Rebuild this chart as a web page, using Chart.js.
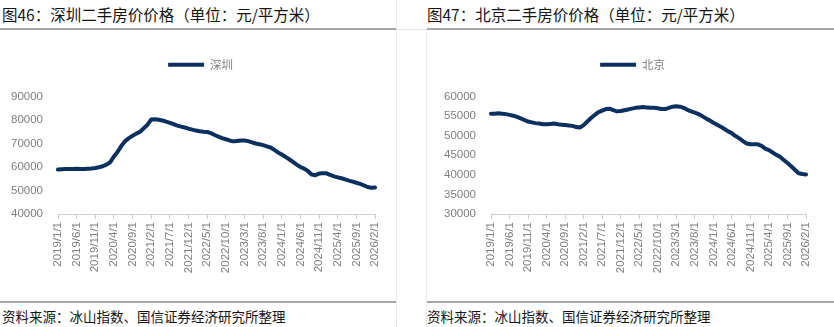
<!DOCTYPE html>
<html>
<head>
<meta charset="utf-8">
<script src="https://cdn.jsdelivr.net/npm/chart.js@4.4.1/dist/chart.umd.min.js"></script>
<style>
  body { margin: 0; background: #fff; }
  #page { position: relative; width: 834px; height: 327px; overflow: hidden; font-family: "Noto Sans CJK SC", sans-serif; }
  .title { position: absolute; top: 3px; font-size: 15.5px; line-height: 22px; color: #151515; white-space: nowrap; }
  .src { position: absolute; top: 306px; font-size: 13.5px; line-height: 20px; color: #151515; white-space: nowrap; }
  .rule { position: absolute; height: 2px; background: #a6a6a6; }
  .thin { position: absolute; height: 1px; background: #e4e4e4; }
  .vsep { position: absolute; top: 0; height: 327px; border-left: 1px dotted #d6d6d6; }
  .box { position: absolute; top: 40px; height: 250px; }
</style>
</head>
<body>
<div id="page">
  <div class="title" style="left:2px">图46：深圳二手房价价格（单位：元/平方米）</div>
  <div class="title" style="left:427px">图47：北京二手房价价格（单位：元/平方米）</div>
  <div class="rule" style="left:0;top:28px;width:396px"></div>
  <div class="thin" style="left:396px;top:29px;width:31px"></div>
  <div class="rule" style="left:427px;top:28px;width:407px"></div>
  <div class="vsep" style="left:396px"></div>
  <div class="vsep" style="left:426px;top:30px;height:297px"></div>
  <div class="box" style="left:0;width:396px"><canvas id="chart-sz"></canvas></div>
  <div class="box" style="left:427px;width:407px"><canvas id="chart-bj"></canvas></div>
  <div class="rule" style="left:0;top:301px;width:396px"></div>
  <div class="rule" style="left:427px;top:301px;width:407px"></div>
  <div class="src" style="left:2px">资料来源：冰山指数、国信证券经济研究所整理</div>
  <div class="src" style="left:427px">资料来源：冰山指数、国信证券经济研究所整理</div>
</div>
<script>
// monthly categories 2019/1/1 .. 2026/2/1
var months = [];
for (var yr = 2019; yr <= 2026; yr++) {
  for (var mo = 1; mo <= 12; mo++) {
    if (yr === 2026 && mo > 2) break;
    months.push(yr + "/" + mo + "/1");
  }
}

// 深圳 (元/平方米)
var shenzhen = [
  58900, 59000, 59100, 59200, 59200, 59300, 59200, 59200, 59300, 59400,
  59600, 59900, 60300, 61000, 62000, 64500, 66500, 69000, 71000, 72300,
  73300, 74200, 75000, 76500, 78000, 80200, 80300, 80100, 79800, 79300,
  78800, 78200, 77600, 77200, 76800, 76300, 75900, 75500, 75200, 75000,
  74900, 74400, 73600, 72900, 72300, 71800, 71300, 70900, 71100, 71300,
  71300, 71000, 70500, 70000, 69700, 69300, 68800, 68300, 67300, 66200,
  65300, 64300, 63300, 62200, 61000, 60000, 59300, 58300, 56800, 56500,
  57200, 57300, 57300, 56600, 56000, 55600, 55200, 54700, 54200, 53800,
  53300, 52800, 52200, 51500, 51200, 51300
];

// 北京 (元/平方米)
var beijing = [
  55600, 55600, 55700, 55600, 55500, 55300, 55100, 54800, 54400, 54000,
  53600, 53400, 53200, 53100, 52900, 52900, 53000, 53100, 52900, 52800,
  52700, 52600, 52500, 52200, 52100, 52700, 53600, 54500, 55300, 56000,
  56400, 56800, 56900, 56500, 56200, 56300, 56500, 56700, 56900, 57100,
  57200, 57300, 57200, 57100, 57100, 57000, 56800, 56800, 57100, 57400,
  57500, 57400, 57100, 56600, 56200, 55900, 55500, 55000, 54400, 53900,
  53300, 52800, 52300, 51700, 51100, 50600, 49900, 49300, 48600, 48000,
  47800, 47800, 47800, 47400, 46700, 46300, 45700, 45100, 44600, 43800,
  43000, 42200, 41300, 40400, 40200, 40100
];

var szTicks = [40000, 50000, 60000, 70000, 80000, 90000];
var bjTicks = [30000, 35000, 40000, 45000, 50000, 55000, 60000];

var lineColor = "#0b2f5f";
var tickColor = "#7f7f7f";
var numFont = { family: '"Liberation Sans", Arial, sans-serif', size: 11.5 };
var cjkFont = { family: '"Noto Sans CJK SC", sans-serif', size: 11.5 };

// push the plot area down below the legend
var legendGap = {
  id: "legendGap",
  beforeInit: function (chart) {
    var fit = chart.legend.fit;
    chart.legend.fit = function () {
      fit.bind(chart.legend)();
      this.height += 16;
    };
  },
  // nudge the legend a little to the right, like the original
  afterLayout: function (chart, args, opts) {
    chart.legend.left += opts.shift;
    chart.legend.right += opts.shift;
  }
};

function makeChart(canvasId, name, values, yTicks, axisWidth, padRight, legendShift) {
  return new Chart(document.getElementById(canvasId), {
    type: "line",
    data: {
      labels: months,
      datasets: [{
        label: name,
        data: values,
        borderColor: lineColor,
        backgroundColor: lineColor,
        borderWidth: 4,
        borderJoinStyle: "round",
        borderCapStyle: "round",
        pointRadius: 0,
        tension: 0
      }]
    },
    options: {
      responsive: true,
      maintainAspectRatio: false,
      animation: false,
      layout: { padding: { top: 9, right: padRight, bottom: 0, left: 0 } },
      plugins: {
        legendGap: { shift: legendShift },
        legend: {
          position: "top",
          labels: {
            boxWidth: 36,
            boxHeight: 4,
            padding: 10,
            color: tickColor,
            font: cjkFont,
            generateLabels: function (chart) {
              return Chart.defaults.plugins.legend.labels.generateLabels(chart).map(function (l) {
                l.lineWidth = 0;
                return l;
              });
            }
          }
        },
        tooltip: { enabled: false }
      },
      scales: {
        x: {
          offset: false,
          grid: { display: true, drawOnChartArea: false, drawTicks: true, tickLength: 5, color: "#cfcfcf" },
          border: { display: true, color: "#cfcfcf", width: 1 },
          ticks: {
            autoSkip: false,
            minRotation: 90,
            maxRotation: 90,
            padding: 3,
            color: tickColor,
            font: numFont,
            callback: function (v, i) {
              return i % 5 === 0 ? this.getLabelForValue(v) : null;
            }
          },
          afterFit: function (s) { s.height = 76; }
        },
        y: {
          min: yTicks[0],
          max: yTicks[yTicks.length - 1],
          grid: { display: false, drawTicks: false },
          border: { display: false },
          ticks: {
            stepSize: yTicks[1] - yTicks[0],
            padding: 15,
            color: tickColor,
            font: numFont,
            callback: function (v) { return String(v); }
          },
          afterFit: function (s) { s.width = axisWidth; }
        }
      }
    },
    plugins: [legendGap]
  });
}

var chartSz = makeChart("chart-sz", "深圳", shenzhen, szTicks, 58, 21, 13);
var chartBj = makeChart("chart-bj", "北京", beijing, bjTicks, 64, 28, 16);
</script>
</body>
</html>
